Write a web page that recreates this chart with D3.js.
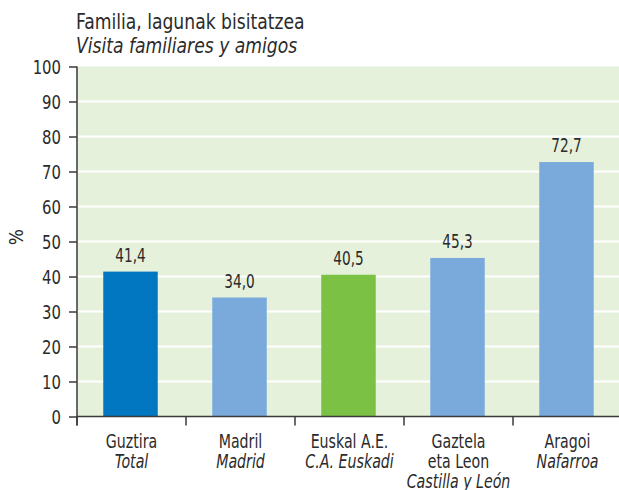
<!DOCTYPE html>
<html>
<head>
<meta charset="utf-8">
<script src="https://cdn.jsdelivr.net/npm/d3@7"></script>
<style>
  body { margin: 0; background: #fff; }
  svg text { font-family: "Liberation Sans Narrow", "DejaVu Sans Condensed", "Roboto Condensed", sans-serif; font-stretch: condensed; fill: #2b2b2b; }
</style>
</head>
<body>
<svg id="chart" width="619" height="490"></svg>
<script>
// data
var titleEu = "Familia, lagunak bisitatzea";
var titleEs = "Visita familiares y amigos";
var categories = ["Guztira", "Madril", "Euskal A.E.", "Gaztela", "Aragoi"];
var labelsEu = [["Guztira"], ["Madril"], ["Euskal A.E."], ["Gaztela", "eta Leon"], ["Aragoi"]];
var labelsEs = ["Total", "Madrid", "C.A. Euskadi", "Castilla y León", "Nafarroa"];
var values = [41.4, 34.0, 40.5, 45.3, 72.7];
var barColors = ["#0077c0", "#7aaadb", "#7bc143", "#7aaadb", "#7aaadb"];
var yTicks = [0, 10, 20, 30, 40, 50, 60, 70, 80, 90, 100];

var width = 619, height = 490;
var margin = {top: 66.5, right: -2, bottom: 73.5, left: 76};

var svg = d3.select("#chart");

// squeeze text horizontally to get the narrow look of the original font
function narrowAt(px, py, k) {
  return "translate(" + px + "," + py + ") scale(" + k + ",1)";
}

var x = d3.scaleBand()
  .domain(categories)
  .range([margin.left, width - margin.right])
  .paddingInner(0.5)
  .paddingOuter(0.25);

var y = d3.scaleLinear()
  .domain([0, 100])
  .range([height - margin.bottom, margin.top]);

var axisX = 77;

// plot background
svg.append("rect")
  .attr("x", axisX)
  .attr("y", y(100))
  .attr("width", width - axisX)
  .attr("height", y(0) - y(100))
  .attr("fill", "#e6f1dc");

// gridlines
svg.selectAll(".grid").data(yTicks.filter(d => d > 0 && d < 100))
  .enter().append("line")
  .attr("x1", axisX)
  .attr("x2", width)
  .attr("y1", d => y(d))
  .attr("y2", d => y(d))
  .attr("stroke", "#fff")
  .attr("stroke-width", 2);

// bars
svg.selectAll(".bar").data(values)
  .enter().append("rect")
  .attr("x", (d, i) => x(categories[i]))
  .attr("width", x.bandwidth())
  .attr("y", d => y(d))
  .attr("height", d => y(0) - y(d))
  .attr("fill", (d, i) => barColors[i]);

// value labels
svg.selectAll(".val").data(values)
  .enter().append("text")
  .attr("transform", (d, i) => narrowAt(x(categories[i]) + x.bandwidth() / 2, y(d) - 10, 0.8))
  .attr("text-anchor", "middle")
  .style("font-size", "19px")
  .text(d => d.toFixed(1).replace(".", ","));

// y axis
var yAxis = d3.axisLeft(y).tickValues(yTicks).tickSize(8).tickPadding(7);
var gy = svg.append("g")
  .attr("transform", "translate(" + axisX + ",0)")
  .call(yAxis);
gy.select(".domain").remove();
gy.append("line")
  .attr("x1", 0).attr("x2", 0)
  .attr("y1", y(100)).attr("y2", y(0) + 9)
  .attr("stroke", "#3a3a3a").attr("stroke-width", 1.5);
gy.selectAll(".tick line").attr("stroke", "#3a3a3a").attr("stroke-width", 1.5);
gy.selectAll(".tick text")
  .style("font-size", "19px")
  .attr("fill", "#2b2b2b")
  .attr("x", null)
  .attr("dy", "0.36em")
  .attr("transform", narrowAt(-16, 0, 0.87));

// x axis baseline and category separators
svg.append("line")
  .attr("x1", axisX).attr("x2", width)
  .attr("y1", y(0)).attr("y2", y(0))
  .attr("stroke", "#3a3a3a").attr("stroke-width", 1.5);

var step = x.step();
var bounds = categories.map((c, i) => axisX + i * step);
svg.selectAll(".xsep").data(bounds)
  .enter().append("line")
  .attr("x1", d => d).attr("x2", d => d)
  .attr("y1", y(0)).attr("y2", y(0) + 9)
  .attr("stroke", "#3a3a3a").attr("stroke-width", 1.5);

// category labels
var lab = svg.selectAll(".cat").data(categories)
  .enter().append("text")
  .attr("text-anchor", "middle")
  .style("font-size", "19px")
  .attr("transform", d => narrowAt(x(d) + x.bandwidth() / 2 + 1, 448, 0.83));
lab.each(function(d, i) {
  var t = d3.select(this);
  var lines = labelsEu[i];
  lines.forEach((l, j) => {
    t.append("tspan").attr("x", 0).attr("y", j * 20).text(l);
  });
  t.append("tspan").attr("x", 0).attr("y", lines.length * 20)
    .style("font-style", "italic").text(labelsEs[i]);
});

// y axis title
svg.append("text")
  .attr("transform", "translate(23,237) rotate(-90)")
  .attr("text-anchor", "middle")
  .style("font-size", "19px")
  .text("%");

// chart title
svg.append("text")
  .attr("transform", narrowAt(76, 29, 0.91))
  .style("font-size", "21px")
  .text(titleEu);
svg.append("text")
  .attr("transform", narrowAt(76, 53, 0.91))
  .style("font-size", "21px")
  .style("font-style", "italic")
  .text(titleEs);
</script>
</body>
</html>
